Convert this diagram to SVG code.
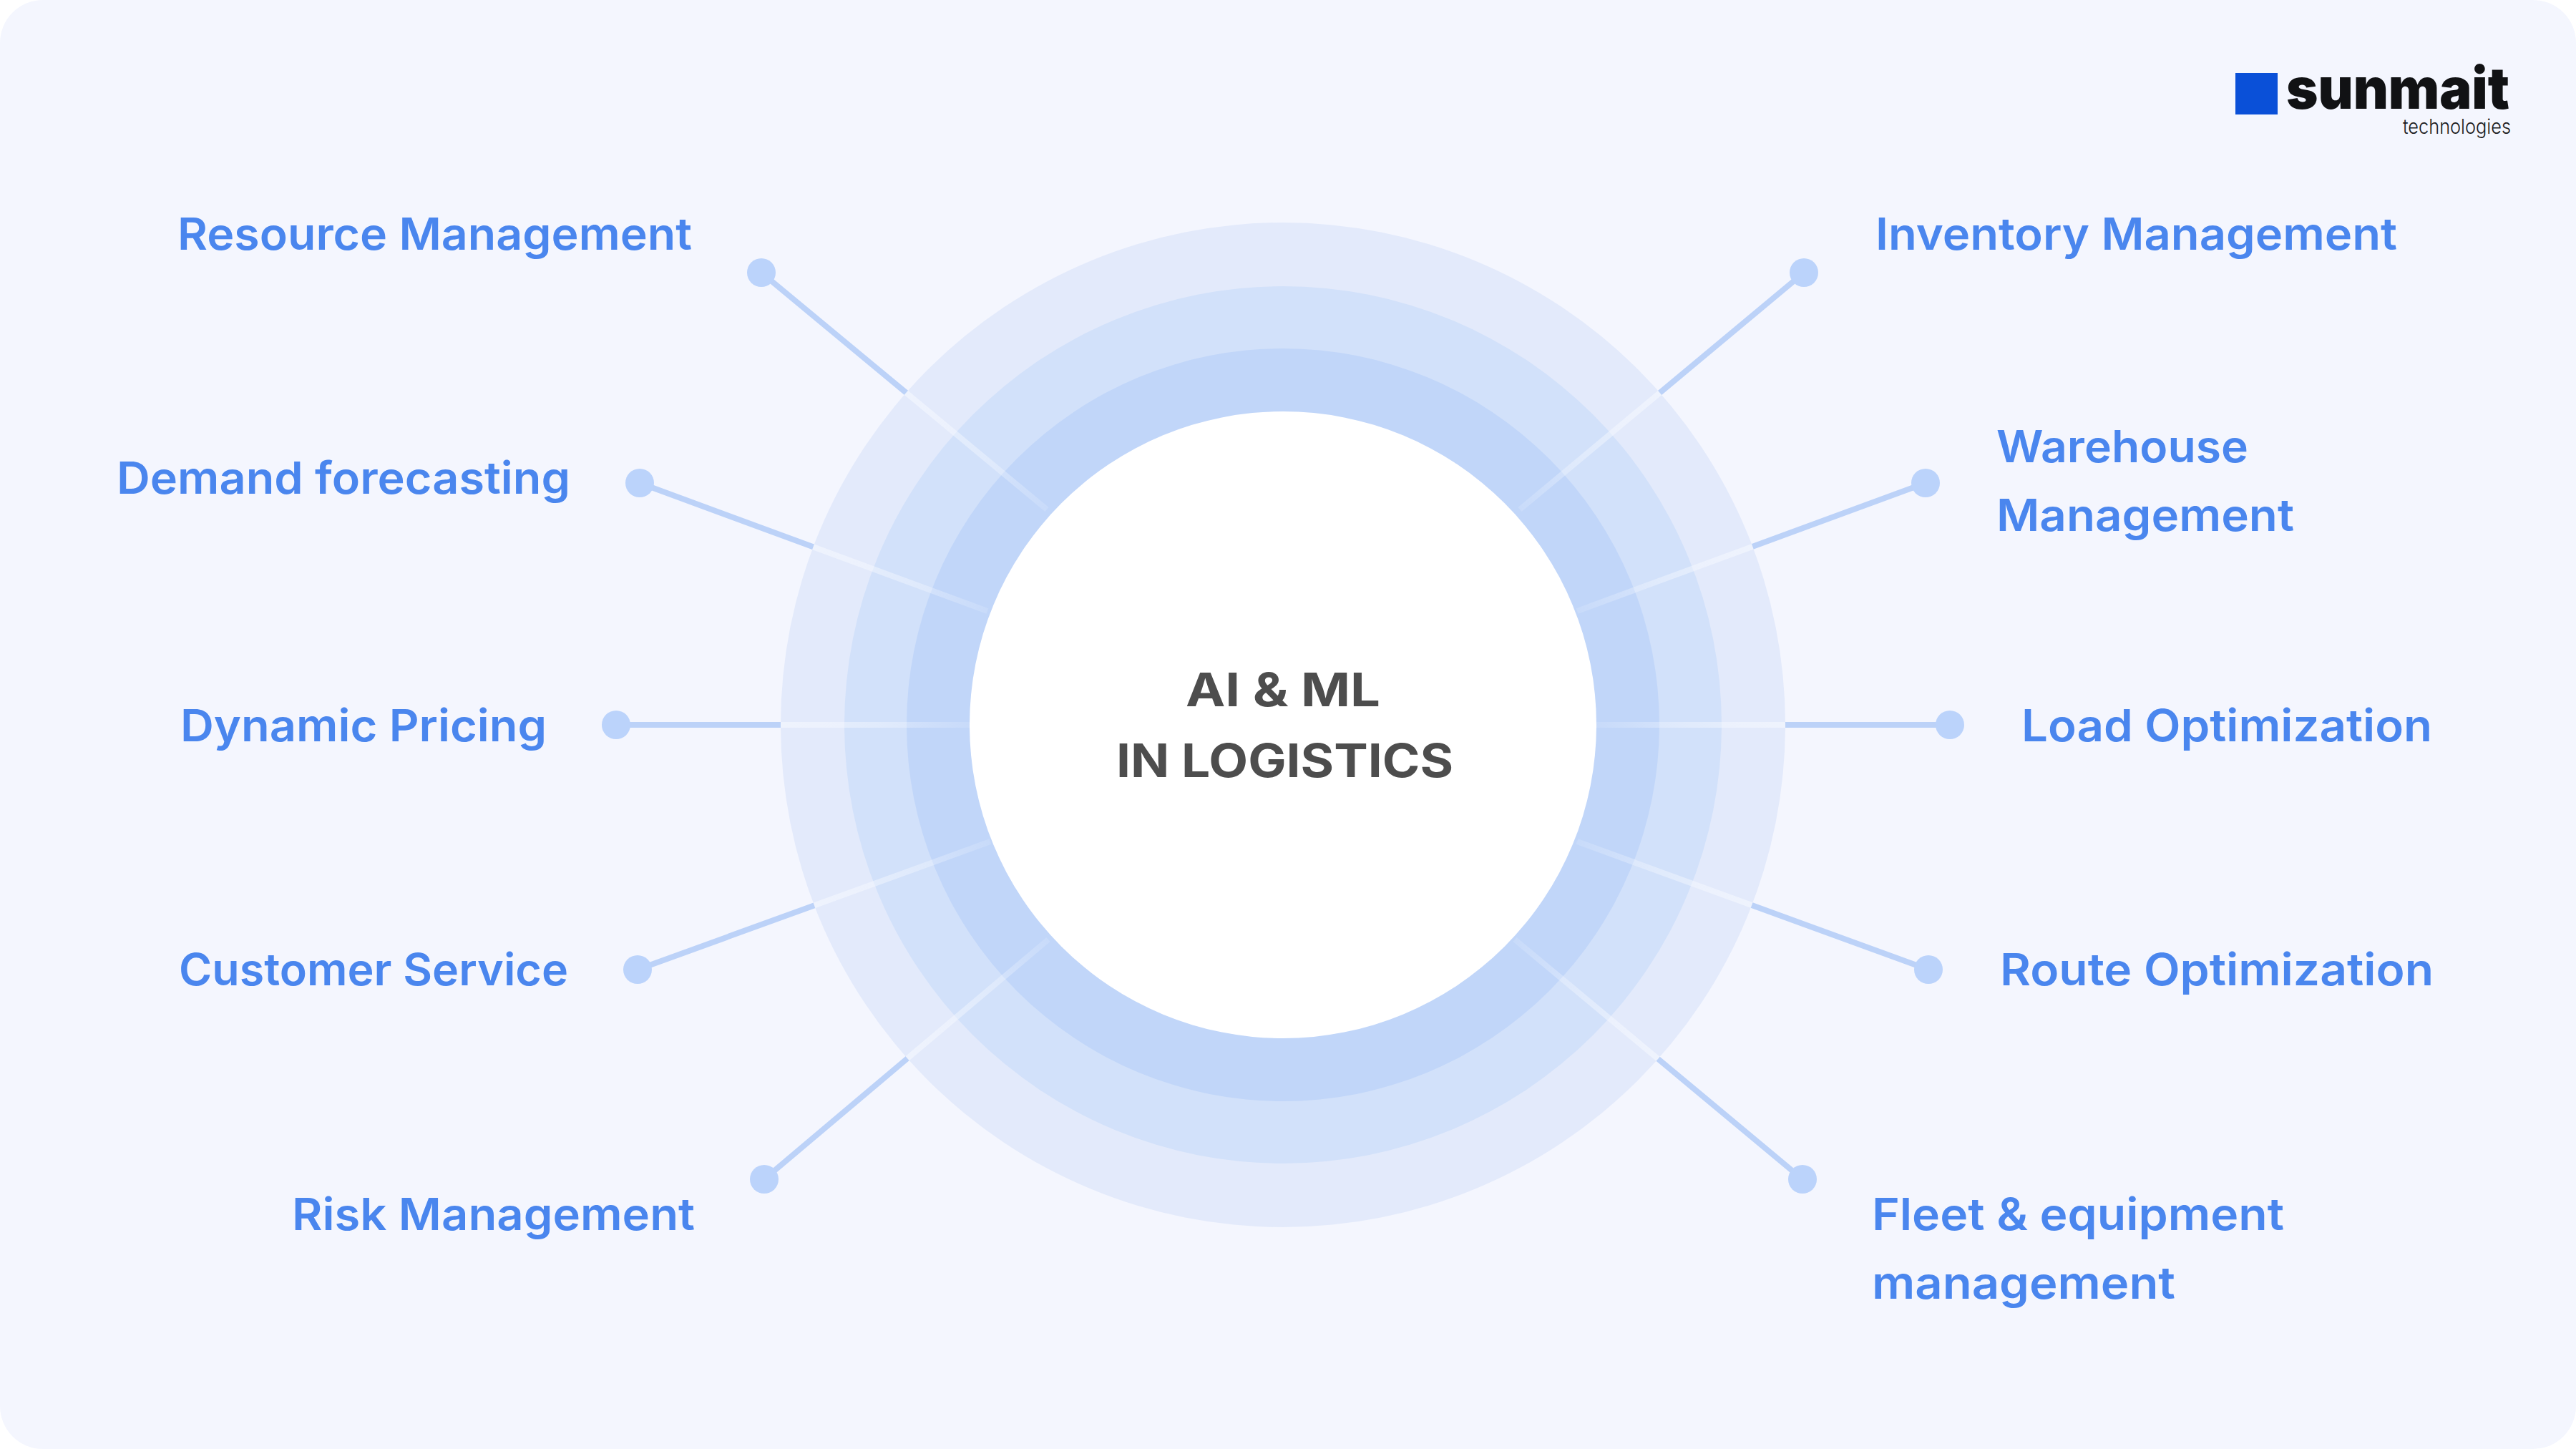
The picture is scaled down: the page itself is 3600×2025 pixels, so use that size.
<svg xmlns="http://www.w3.org/2000/svg" width="3600" height="2025" viewBox="0 0 3600 2025">
<style>
.lbl{font-family:"Inter","Open Sans","Liberation Sans",sans-serif;font-weight:600;font-size:62px;fill:#4a86ee}
.ctr{font-family:"Inter","Liberation Sans",sans-serif;font-weight:700;font-size:64px;fill:#4d4d4d}
.conn{stroke:#bcd2f8;stroke-width:8;fill:none}
.pale{stroke:url(#fade);stroke-width:8;fill:none}
.dot{fill:#bbd3fb}
</style>
<defs>
<clipPath id="ringclip"><circle cx="1793" cy="1013" r="702"/></clipPath>
<radialGradient id="fade" gradientUnits="userSpaceOnUse" cx="1793" cy="1013" r="702">
<stop offset="0.62" stop-color="#f6f9ff" stop-opacity="0.12"/>
<stop offset="0.8" stop-color="#f6f9ff" stop-opacity="0.4"/>
<stop offset="1" stop-color="#f6f9ff" stop-opacity="0.6"/>
</radialGradient>
</defs>
<rect width="3600" height="2025" fill="#ffffff"/>
<rect id="background" width="3600" height="2025" rx="60" fill="#f4f6fe"/>
<g id="connectors">
<path class="conn" d="M1064 381L1463 712M894 675L1380 854M861 1013H1355M891 1355L1384 1176M1068 1648L1465 1313M2521 381L2124 712M2691 675L2204 854M2725 1013H2231M2695 1355L2204 1176M2519 1648L2117 1313"/>
</g>
<g id="rings">
<circle cx="1793" cy="1013" r="702" fill="#e3eafb"/>
<circle cx="1793" cy="1013" r="613" fill="#d2e1fa"/>
<circle cx="1793" cy="1013" r="526" fill="#c1d6f9"/>
</g>
<g id="connectors-over-rings" clip-path="url(#ringclip)">
<path class="pale" d="M1064 381L1463 712M894 675L1380 854M861 1013H1355M891 1355L1384 1176M1068 1648L1465 1313M2521 381L2124 712M2691 675L2204 854M2725 1013H2231M2695 1355L2204 1176M2519 1648L2117 1313"/>
</g>
<g id="center">
<circle cx="1793" cy="1013" r="438" fill="#ffffff"/>
<text class="ctr" x="1657" y="987" textLength="272" lengthAdjust="spacingAndGlyphs">AI &amp; ML</text>
<text class="ctr" x="1560" y="1086" textLength="471" lengthAdjust="spacingAndGlyphs">IN LOGISTICS</text>
</g>
<g id="resource"><circle class="dot" cx="1064" cy="381" r="20"/><text class="lbl" x="248" y="349" textLength="719" lengthAdjust="spacingAndGlyphs">Resource Management</text></g>
<g id="demand"><circle class="dot" cx="894" cy="675" r="20"/><text class="lbl" x="163" y="690" textLength="634" lengthAdjust="spacingAndGlyphs">Demand forecasting</text></g>
<g id="pricing"><circle class="dot" cx="861" cy="1013" r="20"/><text class="lbl" x="252" y="1036" textLength="512" lengthAdjust="spacingAndGlyphs">Dynamic Pricing</text></g>
<g id="customer"><circle class="dot" cx="891" cy="1355" r="20"/><text class="lbl" x="250" y="1377" textLength="544" lengthAdjust="spacingAndGlyphs">Customer Service</text></g>
<g id="risk"><circle class="dot" cx="1068" cy="1648" r="20"/><text class="lbl" x="408" y="1719" textLength="563" lengthAdjust="spacingAndGlyphs">Risk Management</text></g>
<g id="inventory"><circle class="dot" cx="2521" cy="381" r="20"/><text class="lbl" x="2621" y="349" textLength="729" lengthAdjust="spacingAndGlyphs">Inventory Management</text></g>
<g id="warehouse"><circle class="dot" cx="2691" cy="675" r="20"/><text class="lbl" x="2790" y="646" textLength="352" lengthAdjust="spacingAndGlyphs">Warehouse</text><text class="lbl" x="2790" y="742" textLength="416" lengthAdjust="spacingAndGlyphs">Management</text></g>
<g id="load"><circle class="dot" cx="2725" cy="1013" r="20"/><text class="lbl" x="2825" y="1036" textLength="574" lengthAdjust="spacingAndGlyphs">Load Optimization</text></g>
<g id="route"><circle class="dot" cx="2695" cy="1355" r="20"/><text class="lbl" x="2795" y="1377" textLength="606" lengthAdjust="spacingAndGlyphs">Route Optimization</text></g>
<g id="fleet"><circle class="dot" cx="2519" cy="1648" r="20"/><text class="lbl" x="2616" y="1719" textLength="576" lengthAdjust="spacingAndGlyphs">Fleet &amp; equipment</text><text class="lbl" x="2616" y="1815" textLength="424" lengthAdjust="spacingAndGlyphs">management</text></g>
<g id="logo">
<rect x="3124" y="102" width="59" height="58" fill="#0a50d8"/>
<text x="3195" y="152" textLength="312" lengthAdjust="spacingAndGlyphs" style="font-family:Inter,'Liberation Sans',sans-serif;font-weight:900;font-size:80px;fill:#111214">sunmait</text>
<text x="3358" y="187" textLength="151" lengthAdjust="spacingAndGlyphs" style="font-family:Inter,'Liberation Sans',sans-serif;font-weight:300;font-size:28px;fill:#1a1b20">technologies</text>
</g>
</svg>
